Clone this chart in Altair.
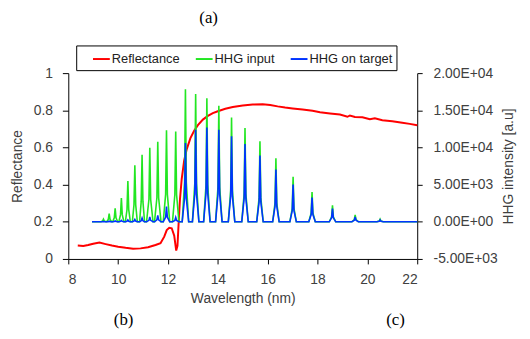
import altair as alt
import pandas as pd

# ---------------- data ----------------
refl_nm = [8.38, 8.6, 8.8, 9.0, 9.25, 9.5, 9.75, 10.0, 10.3, 10.6, 10.9, 11.2, 11.5, 11.7,
           11.85, 11.95, 12.05, 12.15, 12.25, 12.33, 12.38, 12.43, 12.48, 12.55, 12.65,
           12.75, 12.9, 13.05, 13.2, 13.4, 13.6, 13.8, 14.0, 14.3, 14.6, 15.0, 15.4, 15.8,
           16.1, 16.4, 16.7, 17.0, 17.4, 17.8, 18.1, 18.5, 18.9, 19.2, 19.3, 19.5, 19.8,
           20.1, 20.3, 20.6, 21.0, 21.4, 21.7, 22.0]
refl_val = [0.072, 0.07, 0.075, 0.082, 0.088, 0.08, 0.072, 0.066, 0.06, 0.055, 0.057, 0.063,
            0.075, 0.085, 0.12, 0.155, 0.168, 0.165, 0.125, 0.045, 0.07, 0.2, 0.32, 0.43,
            0.53, 0.59, 0.65, 0.69, 0.72, 0.75, 0.77, 0.785, 0.795, 0.808, 0.818, 0.826,
            0.831, 0.832, 0.828, 0.821, 0.815, 0.81, 0.804, 0.797, 0.789, 0.783, 0.777,
            0.765, 0.772, 0.764, 0.762, 0.752, 0.757, 0.746, 0.741, 0.733, 0.727, 0.72]

hhg_nm = [8.95,
          9.31, 9.375, 9.41, 9.445, 9.51,
          9.54, 9.605, 9.64, 9.675, 9.74,
          9.78, 9.845, 9.88, 9.915, 9.98,
          10.03, 10.095, 10.13, 10.165, 10.23,
          10.29, 10.355, 10.39, 10.425, 10.49,
          10.57, 10.635, 10.67, 10.705, 10.77,
          10.86, 10.925, 10.96, 10.995, 11.06,
          11.14, 11.235, 11.27, 11.305, 11.40,
          11.46, 11.555, 11.59, 11.625, 11.72,
          11.81, 11.905, 11.94, 11.975, 12.07,
          12.18, 12.275, 12.31, 12.345, 12.44,
          12.57, 12.665, 12.70, 12.735, 12.83,
          12.98, 13.075, 13.11, 13.145, 13.24,
          13.43, 13.525, 13.56, 13.595, 13.69,
          13.91, 14.005, 14.04, 14.075, 14.17,
          14.42, 14.515, 14.55, 14.585, 14.68,
          14.96, 15.055, 15.09, 15.125, 15.22,
          15.56, 15.655, 15.69, 15.725, 15.82,
          16.20, 16.295, 16.33, 16.365, 16.46,
          16.89, 16.985, 17.02, 17.055, 17.15,
          17.65, 17.745, 17.78, 17.815, 17.91,
          18.47, 18.565, 18.60, 18.635, 18.73,
          19.38, 19.475, 19.51, 19.545, 19.64,
          20.38, 20.475, 20.51, 20.545, 20.64,
          22.0]
hhg_input = [0,
             0, 105, 350, 105, 0,
             0, 330, 1100, 330, 0,
             0, 550, 1825, 550, 0,
             0, 960, 3200, 960, 0,
             0, 1640, 5475, 1640, 0,
             0, 2280, 7600, 2280, 0,
             0, 2710, 9025, 2710, 0,
             0, 2990, 9975, 2990, 0,
             0, 3230, 10775, 3230, 0,
             0, 3690, 12300, 3690, 0,
             0, 3645, 12150, 3645, 0,
             0, 5350, 17825, 5350, 0,
             0, 5160, 17200, 5160, 0,
             0, 4990, 16625, 4990, 0,
             0, 4680, 15600, 4680, 0,
             0, 4210, 14025, 4210, 0,
             0, 3780, 12600, 3780, 0,
             0, 3250, 10825, 3250, 0,
             0, 2565, 8550, 2565, 0,
             0, 1815, 6050, 1815, 0,
             0, 1200, 4000, 1200, 0,
             0, 670, 2225, 670, 0,
             0, 280, 925, 280, 0,
             0, 105, 350, 105, 0,
             0]
hhg_target = [0,
              0, 15, 50, 15, 0,
              0, 22, 75, 22, 0,
              0, 38, 125, 38, 0,
              0, 52, 175, 52, 0,
              0, 75, 250, 75, 0,
              0, 98, 325, 98, 0,
              0, 150, 500, 150, 0,
              0, 195, 650, 195, 0,
              0, 262, 875, 262, 0,
              0, 615, 2050, 615, 0,
              0, 180, 600, 180, 0,
              0, 3180, 10600, 3180, 0,
              0, 3710, 12375, 3710, 0,
              0, 3810, 12700, 3810, 0,
              0, 3710, 12375, 3710, 0,
              0, 3450, 11500, 3450, 0,
              0, 3140, 10475, 3140, 0,
              0, 2670, 8900, 2670, 0,
              0, 2110, 7025, 2110, 0,
              0, 1500, 5000, 1500, 0,
              0, 975, 3250, 975, 0,
              0, 532, 1775, 532, 0,
              0, 195, 650, 195, 0,
              0, 75, 250, 75, 0,
              0]

series_names = ["Reflectance", "HHG input", "HHG on target"]
series_colors = ["#ff0000", "#22e622", "#0033ff"]
x_ticks = [8, 10, 12, 14, 16, 18, 20, 22]
left_ticks = [0, 0.2, 0.4, 0.6, 0.8, 1.0]
right_ticks = [-5000, 0, 5000, 10000, 15000, 20000]
right_tick_labels = ["-5.00E+03", "0.00E+00", "5.00E+03", "1.00E+04", "1.50E+04", "2.00E+04"]
top_label = ["(a)"]
top_label_nm = [13.63]
bottom_labels = ["(b)", "(c)"]
bottom_labels_nm = [10.22, 21.13]

# ---------------- tables ----------------
refl_df = pd.DataFrame({"nm": refl_nm, "value": refl_val, "series": series_names[0]})
in_df = pd.DataFrame({"nm": hhg_nm, "value": hhg_input, "series": series_names[1]})
tg_df = pd.DataFrame({"nm": hhg_nm, "value": hhg_target, "series": series_names[2]})
top_df = pd.DataFrame({"label": top_label, "nm": top_label_nm})
bot_df = pd.DataFrame({"label": bottom_labels, "nm": bottom_labels_nm})

FONT = "Liberation Sans"
W, H = 353, 188
PAD_L, PAD_T = 61, 64
TOTAL_W, TOTAL_H = 520, 323

label_expr = " : ".join(
    f"datum.value == {v} ? '{s}'" for v, s in zip(right_ticks, right_tick_labels)
) + " : ''"

x_enc = alt.X("nm:Q", scale=alt.Scale(domain=[8, 22], nice=False, zero=False),
              axis=alt.Axis(values=x_ticks, title="Wavelength (nm)", tickSize=5,
                            labelPadding=9, titlePadding=5))

color = alt.Color(
    "series:N",
    scale=alt.Scale(domain=series_names, range=series_colors),
    legend=alt.Legend(
        title=None, orient="none", legendX=8, legendY=-28, direction="horizontal",
        strokeColor="black", fillColor="white", padding=4,
        symbolType="stroke", symbolSize=289, symbolStrokeWidth=2, symbolOffset=12,
        labelFont=FONT, labelFontSize=13, labelColor="#222222",
        labelOffset=1, columnPadding=3,
    ),
)

red = alt.Chart(refl_df).mark_line(strokeWidth=2).encode(
    x=x_enc,
    y=alt.Y("value:Q", scale=alt.Scale(domain=[0, 1], nice=False),
            axis=alt.Axis(orient="left", values=left_ticks, format="~g",
                          title="Reflectance", tickSize=6, labelPadding=10, titlePadding=9)),
    color=color,
)

hhg_y = alt.Y("value:Q", scale=alt.Scale(domain=[-5000, 20000], nice=False, zero=False),
              axis=alt.Axis(orient="right", values=right_ticks, labelExpr=label_expr,
                            title="HHG intensity [a.u]", titleAngle=270, titleBaseline="top",
                            tickSize=5, labelPadding=11, titlePadding=4))

green = alt.Chart(in_df).mark_line(strokeWidth=1.6).encode(x=x_enc, y=hhg_y, color=color)
blue = alt.Chart(tg_df).mark_line(strokeWidth=1.6).encode(x=x_enc, y=hhg_y, color=color)

top_text = alt.Chart(top_df).mark_text(font="Liberation Serif", fontSize=17, color="black",
                                       baseline="top").encode(
    x="nm:Q", y=alt.value(-PAD_T), text="label:N")
bot_text = alt.Chart(bot_df).mark_text(font="Liberation Serif", fontSize=17, color="black",
                                       baseline="bottom").encode(
    x="nm:Q", y=alt.value(TOTAL_H - PAD_T), text="label:N")

chart = alt.layer(red, alt.layer(green, blue), top_text, bot_text).resolve_scale(
    y="independent"
).properties(
    width=W, height=H,
    autosize=alt.AutoSizeParams(type="none"),
    padding={"left": PAD_L, "top": PAD_T,
             "right": TOTAL_W - PAD_L - W, "bottom": TOTAL_H - PAD_T - H},
).configure_view(stroke=None).configure_axis(
    grid=False, domainColor="black", tickColor="black", domainWidth=1, tickWidth=1,
    labelFont=FONT, labelFontSize=14, labelColor="#404040",
    titleFont=FONT, titleFontSize=14, titleColor="#404040", titleFontWeight="normal",
)

chart.save("out.html", embed_options={"renderer": "svg", "actions": False})
